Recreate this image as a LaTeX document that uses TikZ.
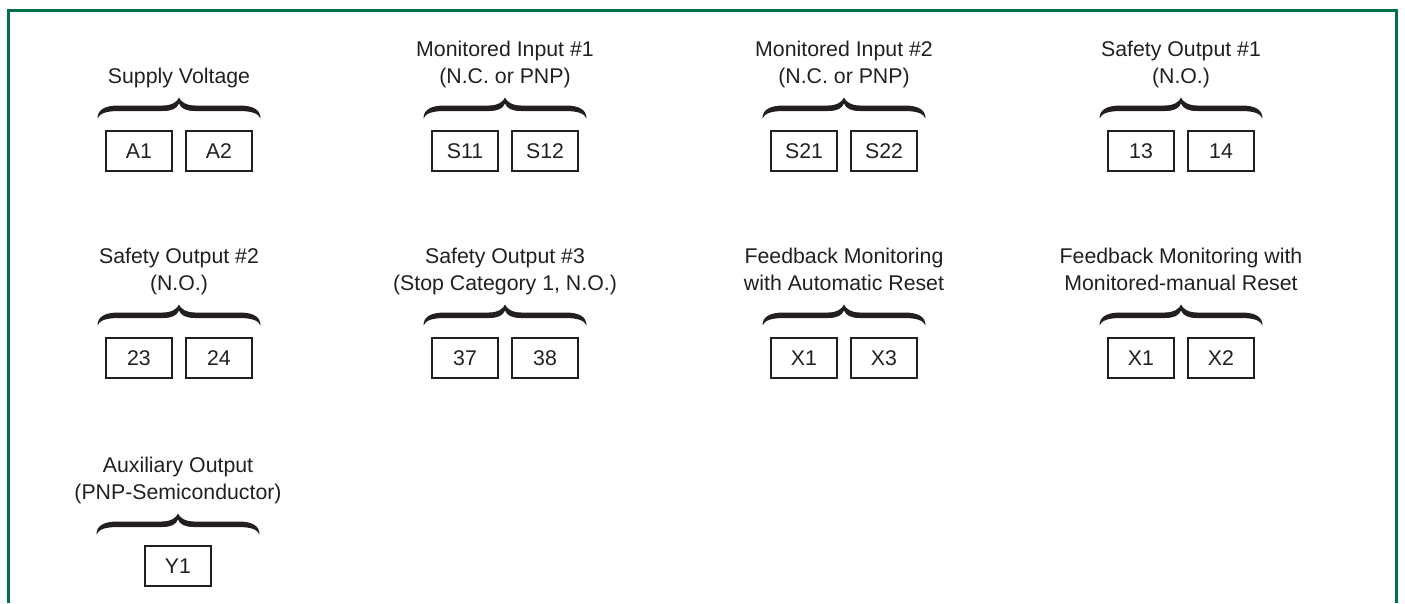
\documentclass[tikz,border=0pt]{standalone}
\usepackage{fontspec}
\setmainfont{Liberation Sans}
\definecolor{framegreen}{RGB}{0,112,74}
\definecolor{ink}{RGB}{35,31,32}
\tikzset{
  term/.style={draw=ink, line width=1.8pt, minimum width=66pt, minimum height=40pt,
    inner sep=0pt, font=\fontsize{21.3}{24}\selectfont, text=ink},
  lbl/.style={align=center, font=\fontsize{21.3}{27}\selectfont, anchor=base,
    inner sep=0pt, text=ink},
  curly/.pic={
    \fill[ink] (-81.5,21)
      .. controls (-81.5,12) and (-74,8) .. (-60,8) -- (-16,8)
      .. controls (-7,8) and (-1.5,4) .. (0,0)
      .. controls (1.5,4) and (7,8) .. (16,8) -- (60,8)
      .. controls (74,8) and (81.5,12) .. (81.5,21)
      .. controls (79.5,16) and (73,13.5) .. (60,13.5) -- (16,13.5)
      .. controls (7,13.5) and (2,11) .. (0,6)
      .. controls (-2,11) and (-7,13.5) .. (-16,13.5) -- (-60,13.5)
      .. controls (-73,13.5) and (-79.5,16) .. (-81.5,21) -- cycle;
  }
}
\newcommand\termgroup[6]{%
  \node[lbl] (#1t) at (#2,#3-48) {#4};
  \pic at (#2,#3-33.5) {curly};
  \node[term] (#1a) at (#2-40,#3+20) {#5};
  \node[term] (#1b) at (#2+40,#3+20) {#6};
}
\begin{document}
\begin{tikzpicture}[x=1pt,y=-1pt]
\useasboundingbox (0,0) rectangle (1405,603);
\draw[framegreen, line width=2.5pt] (8.5,603) -- (8.5,10.5) -- (1396.5,10.5) -- (1396.5,603);
\termgroup{sv}{179}{131}{Supply Voltage}{A1}{A2}
\termgroup{mia}{505}{131}{Monitored Input \#1\\(N.C. or PNP)}{S11}{S12}
\termgroup{mib}{844}{131}{Monitored Input \#2\\(N.C. or PNP)}{S21}{S22}
\termgroup{soa}{1181}{131}{Safety Output \#1\\(N.O.)}{13}{14}
\termgroup{sob}{179}{338}{Safety Output \#2\\(N.O.)}{23}{24}
\termgroup{soc}{505}{338}{Safety Output \#3\\(Stop Category 1, N.O.)}{37}{38}
\termgroup{fba}{844}{338}{Feedback Monitoring\\with Automatic Reset}{X1}{X3}
\termgroup{fbm}{1181}{338}{Feedback Monitoring with\\Monitored-manual Reset}{X1}{X2}
\node[lbl] (auxt) at (178,547-48) {Auxiliary Output\\(PNP-Semiconductor)};
\pic at (178,547-33.5) {curly};
\node[term] (auxa) at (178,547+19) {Y1};
\end{tikzpicture}
\end{document}
